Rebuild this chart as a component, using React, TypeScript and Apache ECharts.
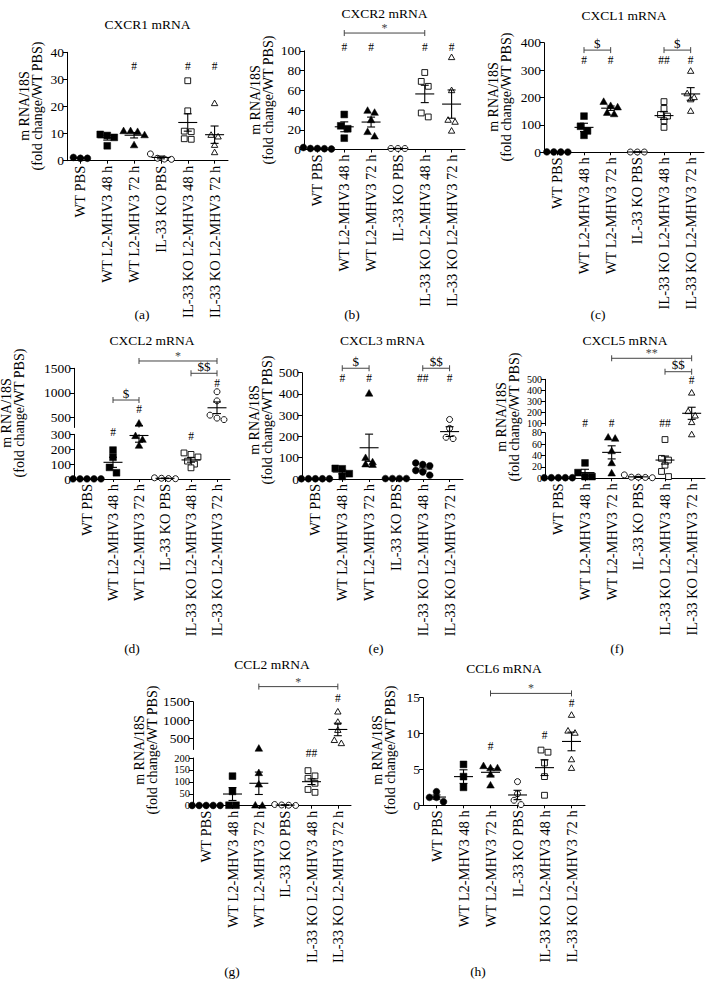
import React, { useEffect, useRef } from "react";
import * as echarts from "echarts";

const categories = [
  "WT PBS",
  "WT L2-MHV3 48 h",
  "WT L2-MHV3 72 h",
  "IL-33 KO PBS",
  "IL-33 KO L2-MHV3 48 h",
  "IL-33 KO L2-MHV3 72 h",
];

// (a) CXCR1
const cxcr1Points = [[1.2, 0.9, 0.9], [9.3, 8.6, 5.5, 9.7], [11, 11, 10.7, 9.5, 5.8], [2.5, 0.9, 0.6, 0.5], [29.5, 18.4, 10.9, 10.7, 7.9, 8.1], [21.2, 9.5, 8.9, 5.8, 3.1]];
const cxcr1Mean = [1.0, 8.5, 9.4, 1.2, 14.1, 9.6];
const cxcr1Sem = [0.1, 0.9, 1.0, 0.5, 3.2, 3.2];
const cxcr1Marks = [{ cat: 2, y: 35, text: "#" }, { cat: 4, y: 35, text: "#" }, { cat: 5, y: 35, text: "#" }];
const cxcr1Brackets: any[] = [];

// (b) CXCR2
const cxcr2Points = [[0.5, 1, 2, 1, 0.8], [35.5, 24, 21, 11.5], [37.5, 39.5, 30, 13.5, 18], [1, 1, 1], [78, 69, 64, 33, 37], [93.5, 60, 30, 28, 19]];
const cxcr2Mean = [1, 23, 27.8, 1, 56.3, 46];
const cxcr2Sem = [0.3, 5, 5, 0.1, 8.8, 14.3];
const cxcr2Marks = [{ cat: 1, y: 104, text: "#" }, { cat: 2, y: 104, text: "#" }, { cat: 4, y: 104, text: "#" }, { cat: 5, y: 104, text: "#" }];
const cxcr2Brackets = [{ from: 1, to: 4, y: 118, text: "*" }];

// (c) CXCL1
const cxcl1Points = [[1, 1.5, 0.8, 1.2], [132, 95, 78, 62], [185, 170, 165, 145, 140], [1, 1, 1], [185, 160, 138, 132, 115, 91], [297, 215, 201, 193, 151]];
const cxcl1Mean = [1, 91, 161, 1, 134, 213];
const cxcl1Sem = [0.2, 15, 8, 0.1, 14, 23];
const cxcl1Marks = [{ cat: 1, y: 337, text: "#" }, { cat: 2, y: 337, text: "#" }, { cat: 4, y: 337, text: "##" }, { cat: 5, y: 337, text: "#" }];
const cxcl1Brackets = [{ from: 1, to: 2, y: 373, text: "$" }, { from: 4, to: 5, y: 373, text: "$" }];

// (d) CXCL2 (broken axis)
const cxcl2Points = [[1, 1, 1, 1, 1], [194, 146, 78, 42], [385, 290, 265, 225], [5, 8, 3, 2], [175, 165, 148, 120, 100, 75], [1025, 840, 550, 490, 460]];
const cxcl2Mean = [1, 112, 292, 4.5, 128, 700];
const cxcl2Sem = [0, 34, 45, 1.3, 15, 118];
const cxcl2Marks = [{ cat: 1, y: 317, text: "#", seg: 0 }, { cat: 2, y: 669, text: "#", seg: 1 }, { cat: 4, y: 289, text: "#", seg: 0 }, { cat: 5, y: 1196, text: "#", seg: 1 }];
const cxcl2Brackets = [{ from: 1, to: 2, y: 857, text: "$", seg: 1 }, { from: 4, to: 5, y: 1399, text: "$$", seg: 1 }, { from: 2, to: 5, y: 1648, text: "*", seg: 1 }];

// (e) CXCL3
const cxcl3Points = [[1, 1, 1, 1, 1], [50, 48, 25, 12], [403, 100, 80, 70, 68], [2, 2, 2, 2], [75, 68, 62, 40, 33, 18], [280, 238, 196, 190]];
const cxcl3Mean = [1, 33, 147, 2, 47, 223];
const cxcl3Sem = [0, 9, 64, 0.2, 9, 23];
const cxcl3Marks = [{ cat: 1, y: 474, text: "#" }, { cat: 2, y: 474, text: "#" }, { cat: 4, y: 474, text: "##" }, { cat: 5, y: 474, text: "#" }];
const cxcl3Brackets = [{ from: 1, to: 2, y: 521, text: "$" }, { from: 4, to: 5, y: 521, text: "$$" }];

// (f) CXCL5 (broken axis)
const cxcl5Points = [[1, 1, 1, 1, 1], [27, 10, 3, 3], [72, 70, 48, 27, 9], [6, 2, 1.5, 1, 2], [68, 35, 32, 23, 12, 3], [378, 210, 170, 110, 77]];
const cxcl5Mean = [1, 10, 45.5, 2.5, 32, 191];
const cxcl5Sem = [0.2, 5.8, 11.5, 0.9, 7, 55];
const cxcl5Marks = [{ cat: 1, y: 100, text: "#", seg: 1 }, { cat: 2, y: 100, text: "#", seg: 1 }, { cat: 4, y: 100, text: "##", seg: 1 }, { cat: 5, y: 494, text: "#", seg: 1 }];
const cxcl5Brackets = [{ from: 4, to: 5, y: 569, text: "$$", seg: 1 }, { from: 2, to: 5, y: 691, text: "**", seg: 1 }];

// (g) CCL2 (broken axis)
const ccl2Points = [[1, 1, 1, 1, 1], [124, 60, 2, 2], [230, 138, 90, 2, 1], [2, 5, 1, 3], [147, 125, 115, 94, 68, 56], [1230, 950, 730, 370, 455]];
const ccl2Mean = [1, 49, 94, 2.5, 100.7, 745];
const ccl2Sem = [0.2, 27, 47, 1, 12, 170];
const ccl2Marks = [{ cat: 4, y: 220, text: "##", seg: 0 }, { cat: 5, y: 1593, text: "#", seg: 1 }];
const ccl2Brackets = [{ from: 2, to: 5, y: 1910, text: "*", seg: 1 }];

// (h) CCL6
const ccl6Points = [[1.9, 1.1, 1.1, 0.5], [5.7, 4.0, 2.5], [5.2, 5.2, 5.5, 4.3, 2.8], [3.3, 1.6, 0.7, 0.1], [7.7, 7.4, 5.9, 4.0, 1.4], [12.6, 10.4, 10.1, 6.4, 5.2]];
const ccl6Mean = [1.15, 4.0, 4.6, 1.44, 5.25, 8.9];
const ccl6Sem = [0.3, 0.95, 0.5, 0.65, 1.1, 1.3];
const ccl6Marks = [{ cat: 2, y: 8.2, text: "#" }, { cat: 4, y: 9.8, text: "#" }, { cat: 5, y: 14.2, text: "#" }];
const ccl6Brackets = [{ from: 2, to: 5, y: 15.6, text: "*" }];

const FONT = "Liberation Serif, serif";
const FS_TICK = 13.5;
const FS_CAT = 14.5;
const FS_TITLE = 13.5;
const FS_NAME = 14;
const stdShapes = ["c", "s", "t", "c", "s", "t"];
const stdFilled = [true, true, true, false, false, false];

const panels: any[] = [
  { title: "CXCR1 mRNA", ty: 24, tag: "(a)", tagX: 142, tagY: 314, left: 67, width: 161, nameX: [24, 37], nameY: 106,
    segs: [{ min: 0, max: 40, interval: 10, top: 52.3, bottom: 160.7 }],
    points: cxcr1Points, mean: cxcr1Mean, sem: cxcr1Sem, marks: cxcr1Marks, brackets: cxcr1Brackets, shapes: stdShapes, filled: stdFilled },
  { title: "CXCR2 mRNA", ty: 13, tag: "(b)", tagX: 352, tagY: 314, left: 304, width: 161, nameX: [255, 268], nameY: 100,
    segs: [{ min: 0, max: 100, interval: 20, top: 50.8, bottom: 149.5 }],
    points: cxcr2Points, mean: cxcr2Mean, sem: cxcr2Sem, marks: cxcr2Marks, brackets: cxcr2Brackets, shapes: stdShapes, filled: stdFilled },
  { title: "CXCL1 mRNA", ty: 15, tag: "(c)", tagX: 598, tagY: 314, left: 544, width: 160, nameX: [493, 506], nameY: 97,
    segs: [{ min: 0, max: 400, interval: 100, top: 42.7, bottom: 152.3 }],
    points: cxcl1Points, mean: cxcl1Mean, sem: cxcl1Sem, marks: cxcl1Marks, brackets: cxcl1Brackets, shapes: stdShapes, filled: stdFilled },
  { title: "CXCL2 mRNA", ty: 340, tag: "(d)", tagX: 132, tagY: 648, left: 74, width: 156, nameX: [6, 19], nameY: 413,
    segs: [{ min: 0, max: 300, interval: 100, top: 434.3, bottom: 479 }, { min: 300, max: 1500, ticks: [500, 1000, 1500], top: 368.3, bottom: 427.5 }],
    points: cxcl2Points, mean: cxcl2Mean, sem: cxcl2Sem, marks: cxcl2Marks, brackets: cxcl2Brackets,
    shapes: ["c", "s", "t", "c", "s", "c"], filled: stdFilled },
  { title: "CXCL3 mRNA", ty: 340, tag: "(e)", tagX: 376, tagY: 648, left: 302, width: 161, nameX: [254, 267], nameY: 420,
    segs: [{ min: 0, max: 500, interval: 100, top: 372.7, bottom: 479 }],
    points: cxcl3Points, mean: cxcl3Mean, sem: cxcl3Sem, marks: cxcl3Marks, brackets: cxcl3Brackets,
    shapes: ["c", "s", "t", "c", "c", "c"], filled: [true, true, true, true, true, false] },
  { title: "CXCL5 mRNA", ty: 340, tag: "(f)", tagX: 617, tagY: 648, left: 545, width: 160, nameX: [501, 514], nameY: 417,
    segs: [{ min: 0, max: 80, interval: 20, top: 432.7, bottom: 478.3, fs: 10 }, { min: 80, max: 500, ticks: [100, 200, 300, 400, 500], top: 379.3, bottom: 425.5, fs: 10 }],
    points: cxcl5Points, mean: cxcl5Mean, sem: cxcl5Sem, marks: cxcl5Marks, brackets: cxcl5Brackets, shapes: stdShapes, filled: stdFilled },
  { title: "CCL2 mRNA", ty: 664, tag: "(g)", tagX: 232, tagY: 971, left: 193, width: 158, nameX: [139, 152], nameY: 750,
    segs: [{ min: 0, max: 200, interval: 50, top: 758, bottom: 805.7, fs: 10.5 }, { min: 200, max: 1500, ticks: [500, 1000, 1500], top: 701.7, bottom: 749.5 }],
    points: ccl2Points, mean: ccl2Mean, sem: ccl2Sem, marks: ccl2Marks, brackets: ccl2Brackets, shapes: stdShapes, filled: stdFilled },
  { title: "CCL6 mRNA", ty: 668, tag: "(h)", tagX: 478, tagY: 971, left: 423, width: 162, nameX: [377, 390], nameY: 750,
    segs: [{ min: 0, max: 15, interval: 5, top: 697.7, bottom: 805.3 }],
    points: ccl6Points, mean: ccl6Mean, sem: ccl6Sem, marks: ccl6Marks, brackets: ccl6Brackets, shapes: stdShapes, filled: stdFilled },
];

function textEl(text: string, x: number, y: number, size: number, color = "#000", rotation = 0): any {
  return {
    type: "text", x, y, rotation, silent: true,
    style: {
      text, fill: color, fontSize: size, fontFamily: FONT,
      textAlign: "center", align: "center", textVerticalAlign: "middle", verticalAlign: "middle",
    },
  };
}

function marker(shape: string, filled: boolean, x: number, y: number): any {
  const style = { fill: filled ? "#000" : "#fff", stroke: "#000", lineWidth: filled ? 0.5 : 0.9 };
  if (shape === "c") {
    const r = filled ? 3.4 : 3.0;
    return { type: "circle", shape: { cx: x, cy: y, r }, style };
  }
  if (shape === "s") {
    const h = filled ? 3.4 : 2.9;
    return { type: "rect", shape: { x: x - h, y: y - h, width: 2 * h, height: 2 * h }, style };
  }
  const h = filled ? 3.8 : 3.2;
  return { type: "polygon", shape: { points: [[x, y - h], [x + h, y + h * 0.75], [x - h, y + h * 0.75]] }, style };
}

function makeGroupRenderer(p: any, s: any, k: number) {
  return (params: any, api: any) => {
    const i = params.dataIndex;
    const children: any[] = [];
    const cx = api.coord([i, s.min])[0];
    const inSeg = (v: number) => (k === 0 ? v >= s.min && v <= s.max : v > s.min && v <= s.max);
    const ys = p.points[i].filter(inSeg).map((v: number) => api.coord([i, v])[1]).sort((a: number, b: number) => a - b);
    const clusters: number[][] = [];
    ys.forEach((y: number) => {
      const last = clusters[clusters.length - 1];
      if (last && y - last[0] < 5.5) last.push(y);
      else clusters.push([y]);
    });
    clusters.forEach((cl) => {
      cl.forEach((y, j) => {
        const x = cx + (j - (cl.length - 1) / 2) * 7;
        children.push(marker(p.shapes[i], p.filled[i], x, y));
      });
    });
    const m = p.mean[i];
    const e = p.sem[i];
    const ls = { stroke: "#000", lineWidth: 1.1 };
    const lo = Math.max(m - e, s.min);
    const hi = Math.min(m + e, s.max);
    if (e > 0 && hi > lo) {
      const y1 = api.coord([i, lo])[1];
      const y2 = api.coord([i, hi])[1];
      children.push({ type: "line", shape: { x1: cx, y1, x2: cx, y2 }, style: ls });
    }
    const cap = (v: number) => {
      const y = api.coord([i, v])[1];
      children.push({ type: "line", shape: { x1: cx - 4, y1: y, x2: cx + 4, y2: y }, style: ls });
    };
    if (e > 0 && m + e >= s.min && m + e <= s.max) cap(m + e);
    if (e > 0 && m - e >= s.min && m - e <= s.max) cap(m - e);
    if (m >= s.min && m <= s.max) {
      const y = api.coord([i, m])[1];
      children.push({ type: "line", shape: { x1: cx - 9.5, y1: y, x2: cx + 9.5, y2: y }, style: ls });
    }
    return { type: "group", children };
  };
}

function makeAnnoRenderer(annos: any[]) {
  return (params: any, api: any) => {
    const a = annos[params.dataIndex];
    if (a.kind === "m") {
      const [x, y] = api.coord([a.cat, a.y]);
      return textEl(a.text, x, y, 11.5);
    }
    const p1 = api.coord([a.from, a.y]);
    const p2 = api.coord([a.to, a.y]);
    const col = "#444";
    const ls = { stroke: col, lineWidth: 1 };
    const isStar = a.text.indexOf("*") >= 0;
    return {
      type: "group",
      children: [
        { type: "line", shape: { x1: p1[0], y1: p1[1], x2: p2[0], y2: p2[1] }, style: ls },
        { type: "line", shape: { x1: p1[0], y1: p1[1] - 3, x2: p1[0], y2: p1[1] + 3 }, style: ls },
        { type: "line", shape: { x1: p2[0], y1: p2[1] - 3, x2: p2[0], y2: p2[1] + 3 }, style: ls },
        textEl(a.text, (p1[0] + p2[0]) / 2, p1[1] - (isStar ? 5 : 7), isStar ? 12 : 13, isStar ? "#444" : "#000"),
      ],
    };
  };
}

function buildOption(): any {
  const grid: any[] = [];
  const xAxis: any[] = [];
  const yAxis: any[] = [];
  const series: any[] = [];
  const graphic: any[] = [];
  panels.forEach((p) => {
    p.segs.forEach((s: any, k: number) => {
      const gi = grid.length;
      grid.push({ left: p.left, top: s.top, width: p.width, height: s.bottom - s.top });
      xAxis.push({
        type: "category", gridIndex: gi, data: categories, show: k === 0, boundaryGap: true,
        axisLine: { lineStyle: { color: "#000", width: 1 } },
        axisTick: { show: true, alignWithLabel: true, interval: 0, length: 3, lineStyle: { color: "#000" } },
        axisLabel: { interval: 0, rotate: 90, margin: 5, color: "#000", fontFamily: FONT, fontSize: FS_CAT },
      });
      const yA: any = {
        type: "value", gridIndex: gi, min: s.min, max: s.max, splitLine: { show: false },
        axisLine: { show: true, lineStyle: { color: "#000", width: 1 } },
        axisTick: { show: true, length: 4, lineStyle: { color: "#000" } },
        axisLabel: {
          color: "#000", fontFamily: FONT, fontSize: s.fs || FS_TICK, margin: 3,
          showMinLabel: true, showMaxLabel: true, hideOverlap: false,
          formatter: (v: number) => String(v),
        },
      };
      if (s.interval) yA.interval = s.interval;
      if (s.ticks) {
        yA.axisLabel.customValues = s.ticks;
        yA.axisTick.customValues = s.ticks;
      }
      yAxis.push(yA);
      series.push({
        type: "custom", xAxisIndex: gi, yAxisIndex: gi, clip: false, silent: true,
        data: categories.map((_, i) => [i, p.mean[i]]),
        renderItem: makeGroupRenderer(p, s, k),
      });
      const annos = [
        ...p.marks.filter((m: any) => (m.seg || 0) === k).map((m: any) => ({ ...m, kind: "m" })),
        ...p.brackets.filter((b: any) => (b.seg || 0) === k).map((b: any) => ({ ...b, kind: "b" })),
      ];
      if (annos.length) {
        series.push({
          type: "custom", xAxisIndex: gi, yAxisIndex: gi, clip: false, silent: true,
          data: annos.map((a) => [a.kind === "m" ? a.cat : a.from, a.y]),
          renderItem: makeAnnoRenderer(annos),
        });
      }
    });
    graphic.push(textEl(p.title, p.left + p.width / 2, p.ty, FS_TITLE));
    graphic.push(textEl(p.tag, p.tagX, p.tagY, FS_TITLE));
    graphic.push(textEl("m RNA/18S", p.nameX[0], p.nameY, FS_NAME, "#000", Math.PI / 2));
    graphic.push(textEl("(fold change/WT PBS)", p.nameX[1], p.nameY, FS_NAME, "#000", Math.PI / 2));
  });
  return { animation: false, backgroundColor: "#fff", grid, xAxis, yAxis, series, graphic };
}

export default function App() {
  const ref = useRef<HTMLDivElement>(null);
  useEffect(() => {
    const chart = echarts.init(ref.current as HTMLDivElement, null, { renderer: "svg" });
    chart.setOption(buildOption());
    return () => chart.dispose();
  }, []);
  return <div ref={ref} style={{ position: "absolute", left: 0, top: 0, width: 714, height: 995, background: "#fff" }} />;
}
